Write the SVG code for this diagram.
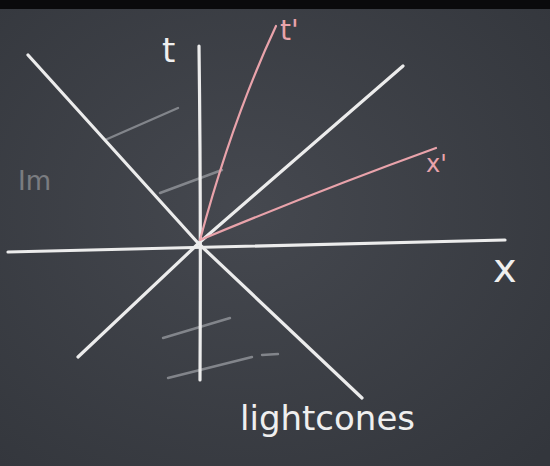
<svg xmlns="http://www.w3.org/2000/svg" width="550" height="466" viewBox="0 0 550 466">
<defs>
<radialGradient id="bg" cx="0.45" cy="0.45" r="0.75">
<stop offset="0" stop-color="#45484f"/>
<stop offset="1" stop-color="#33363c"/>
</radialGradient>
<style>
.chalk{fill:none;stroke:#ececec;stroke-width:3.2;stroke-linecap:round;stroke-linejoin:round}
.faint{fill:none;stroke:#9a9ca2;stroke-width:2.4;stroke-linecap:round;opacity:0.75}
.red{fill:none;stroke:#e9a3ab;stroke-width:2.2;stroke-linecap:round}
.lbl{font-family:"DejaVu Sans",sans-serif;fill:#efefef}
.rlbl{font-family:"DejaVu Sans",sans-serif;fill:#e9a3ab}
</style>
</defs>
<rect width="550" height="466" fill="url(#bg)"/>
<rect width="550" height="9" fill="#0a0a0c"/>
<g id="erased">
<line class="faint" x1="105" y1="140" x2="178" y2="108"/>
<line class="faint" x1="160" y1="193" x2="222" y2="170"/>
<line class="faint" x1="163" y1="338" x2="230" y2="318"/>
<line class="faint" x1="168" y1="378" x2="252" y2="357"/>
<line class="faint" x1="262" y1="355" x2="278" y2="354"/>
<text class="lbl" x="18" y="190" font-size="26" opacity="0.35">Im</text>
</g>
<g id="axes">
<path class="chalk" d="M199 46 Q201 200 200 380"/>
<path class="chalk" d="M8 252 L505 240"/>
</g>
<g id="lightcone">
<path class="chalk" d="M28 55 L198 243 L362 398"/>
<path class="chalk" d="M403 66 L200 242 L78 357"/>
</g>
<g id="primed">
<path class="red" d="M200 240 Q232 120 276 26"/>
<path class="red" d="M200 240 Q320 190 436 148"/>
</g>
<g id="labels">
<text class="lbl" x="162" y="62" font-size="34">t</text>
<text class="rlbl" x="280" y="40" font-size="28">t'</text>
<text class="lbl" x="493" y="282" font-size="40">x</text>
<text class="rlbl" x="426" y="172" font-size="24">x'</text>
<text class="lbl" x="240" y="430" font-size="34">lightcones</text>
</g>
</svg>
